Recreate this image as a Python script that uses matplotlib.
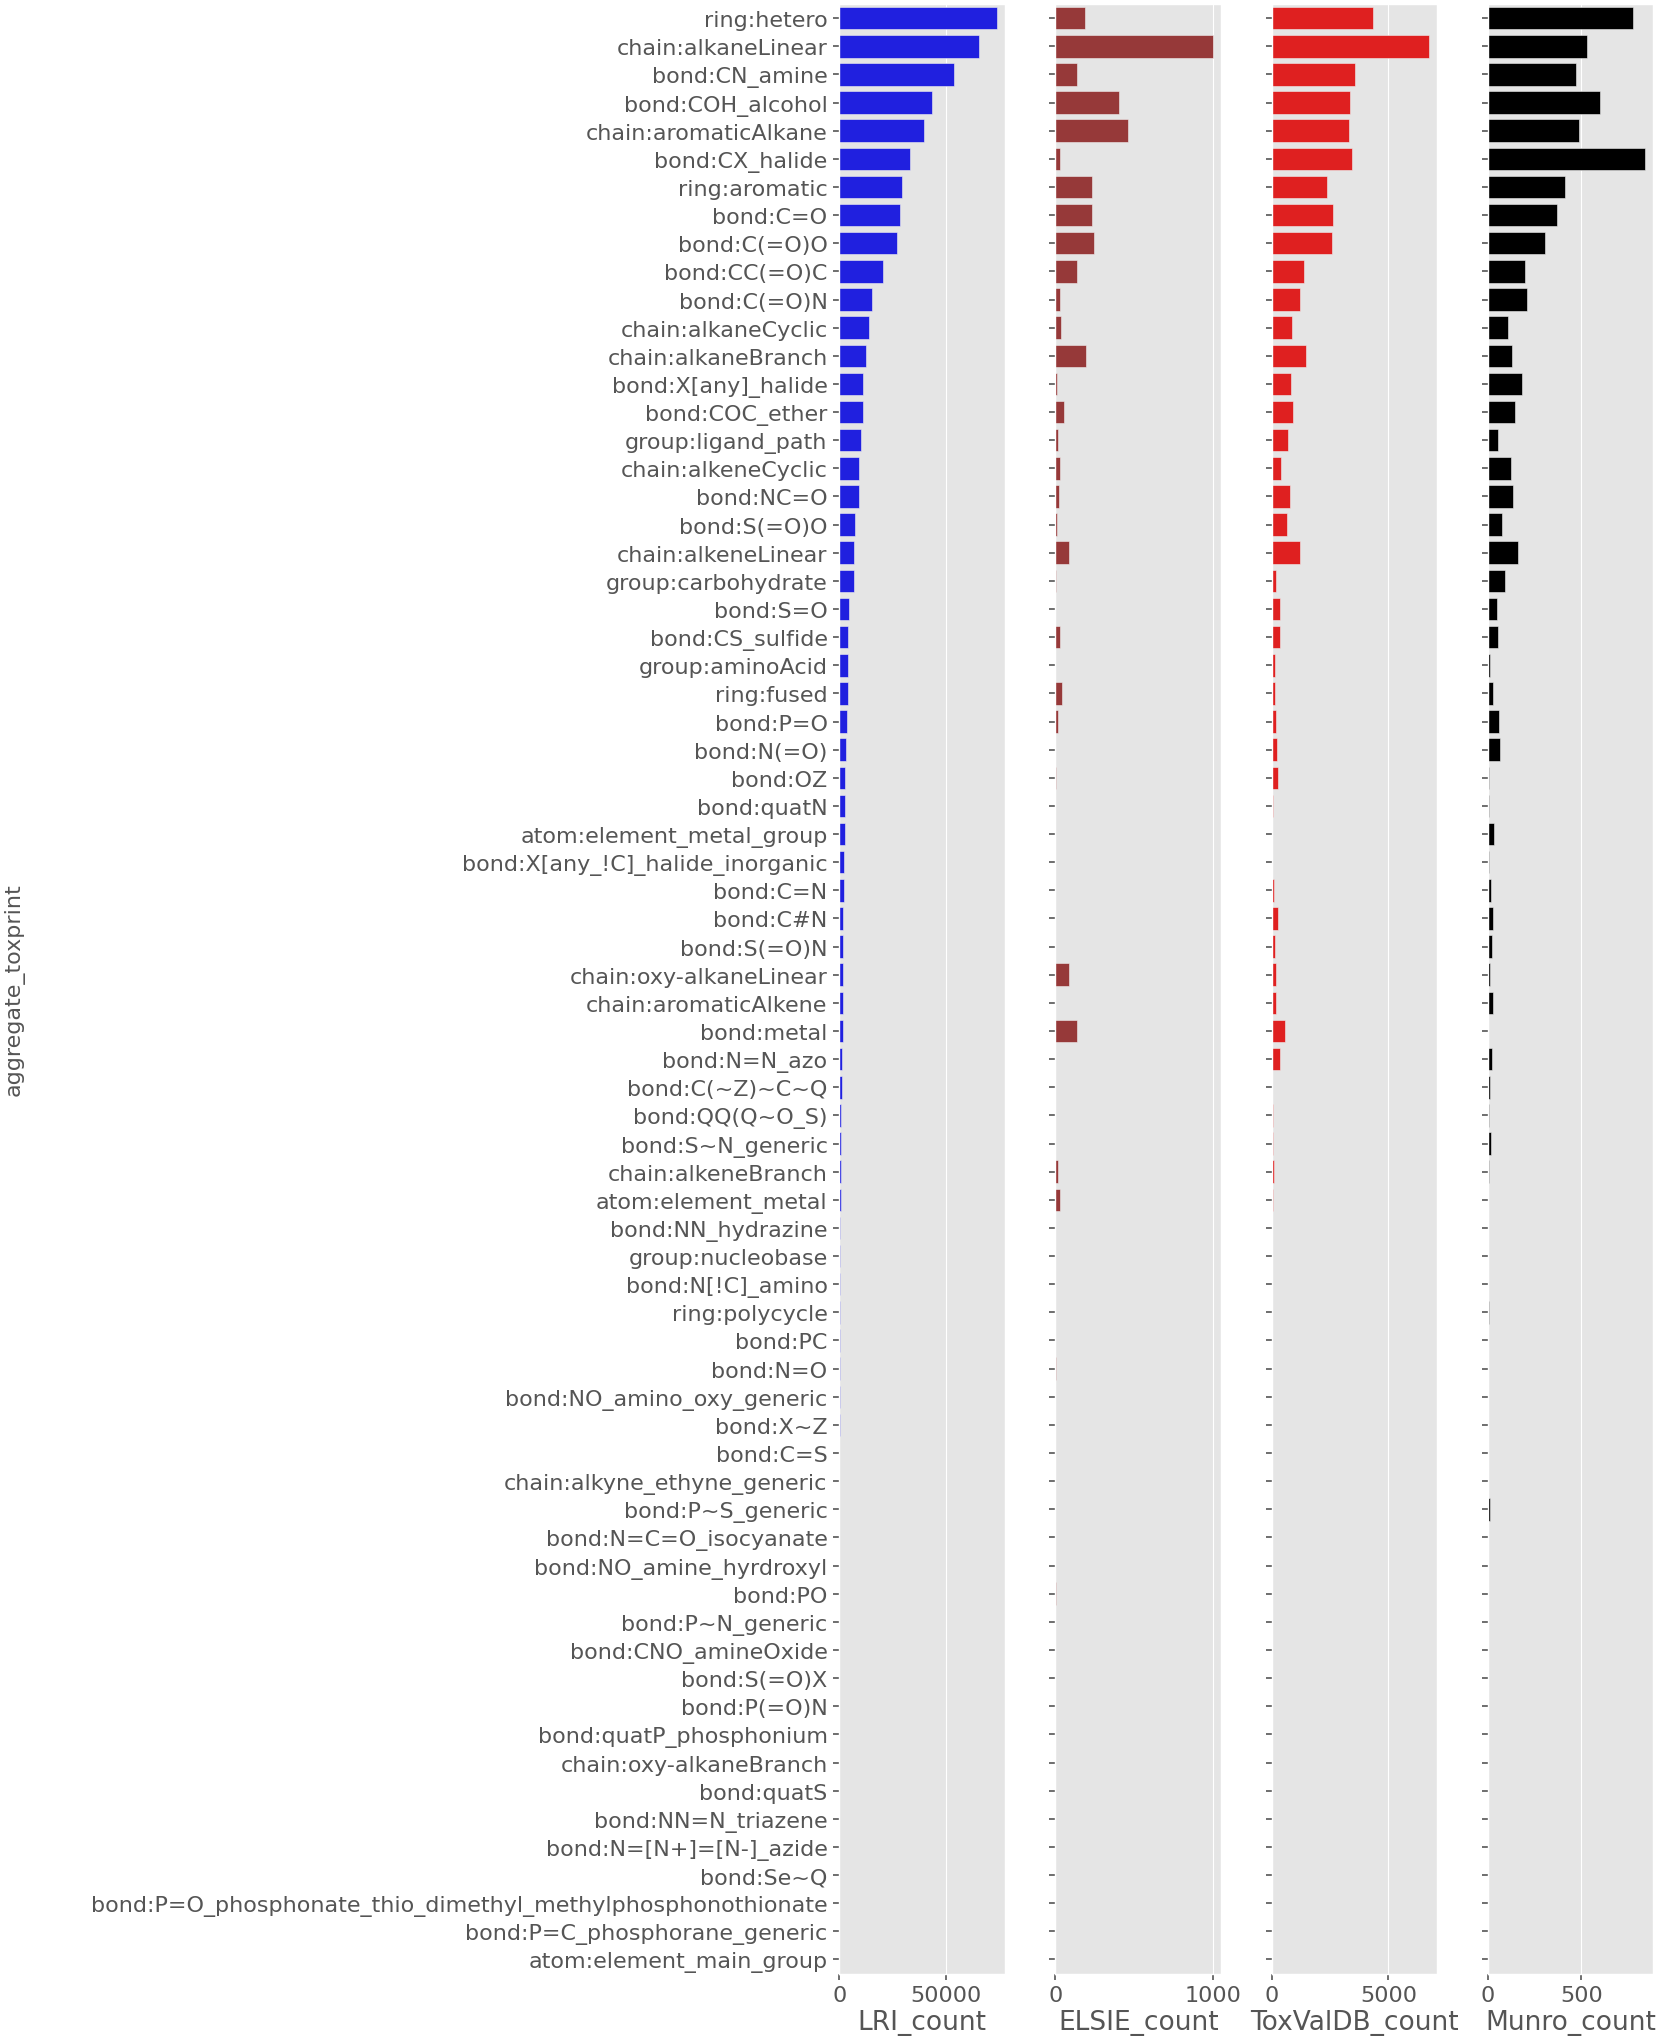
import numpy as np
import matplotlib
matplotlib.use('Agg')
import matplotlib.pyplot as plt

plt.style.use('ggplot')

toxprints = [
    'ring:hetero', 'chain:alkaneLinear', 'bond:CN_amine', 'bond:COH_alcohol',
    'chain:aromaticAlkane', 'bond:CX_halide', 'ring:aromatic', 'bond:C=O',
    'bond:C(=O)O', 'bond:CC(=O)C', 'bond:C(=O)N', 'chain:alkaneCyclic',
    'chain:alkaneBranch', 'bond:X[any]_halide', 'bond:COC_ether', 'group:ligand_path',
    'chain:alkeneCyclic', 'bond:NC=O', 'bond:S(=O)O', 'chain:alkeneLinear',
    'group:carbohydrate', 'bond:S=O', 'bond:CS_sulfide', 'group:aminoAcid',
    'ring:fused', 'bond:P=O', 'bond:N(=O)', 'bond:OZ', 'bond:quatN',
    'atom:element_metal_group', 'bond:X[any_!C]_halide_inorganic', 'bond:C=N',
    'bond:C#N', 'bond:S(=O)N', 'chain:oxy-alkaneLinear', 'chain:aromaticAlkene',
    'bond:metal', 'bond:N=N_azo', 'bond:C(~Z)~C~Q', 'bond:QQ(Q~O_S)',
    'bond:S~N_generic', 'chain:alkeneBranch', 'atom:element_metal', 'bond:NN_hydrazine',
    'group:nucleobase', 'bond:N[!C]_amino', 'ring:polycycle', 'bond:PC', 'bond:N=O',
    'bond:NO_amino_oxy_generic', 'bond:X~Z', 'bond:C=S', 'chain:alkyne_ethyne_generic',
    'bond:P~S_generic', 'bond:N=C=O_isocyanate', 'bond:NO_amine_hyrdroxyl', 'bond:PO',
    'bond:P~N_generic', 'bond:CNO_amineOxide', 'bond:S(=O)X', 'bond:P(=O)N',
    'bond:quatP_phosphonium', 'chain:oxy-alkaneBranch', 'bond:quatS',
    'bond:NN=N_triazene', 'bond:N=[N+]=[N-]_azide', 'bond:Se~Q',
    'bond:P=O_phosphonate_thio_dimethyl_methylphosphonothionate',
    'bond:P=C_phosphorane_generic', 'atom:element_main_group',
]

lri_count = [
    73900, 65400, 53500, 43200, 39600, 33100, 29300, 28500, 26800, 20500,
    15200, 13900, 12400, 11100, 10900, 10100, 9300, 9100, 7300, 6900,
    6800, 4400, 4300, 4200, 3900, 3800, 2900, 2800, 2600, 2500,
    2200, 2000, 1900, 1700, 1700, 1600, 1600, 1400, 1200, 900,
    800, 700, 700, 400, 300, 220, 180, 150, 130, 110,
    95, 80, 70, 60, 50, 45, 40, 35, 30, 25,
    20, 16, 13, 10, 8, 6, 4, 3, 2, 1,
]
elsie_count = [
    188, 1000, 134, 401, 459, 31, 233, 233, 243, 134,
    31, 38, 195, 10, 55, 14, 31, 24, 7, 86,
    5, 0, 27, 0, 41, 17, 0, 5, 0, 0,
    0, 0, 0, 0, 86, 0, 137, 0, 0, 0,
    0, 14, 27, 0, 0, 0, 0, 0, 6, 0,
    0, 0, 0, 0, 0, 0, 4, 0, 0, 0,
    0, 0, 0, 0, 0, 0, 0, 0, 0, 0,
]
toxvaldb_count = [
    4350, 6750, 3565, 3357, 3310, 3449, 2361, 2616, 2570, 1389,
    1204, 880, 1458, 810, 903, 718, 417, 787, 648, 1227,
    208, 370, 347, 139, 162, 208, 232, 278, 70, 0,
    0, 116, 255, 139, 208, 208, 556, 370, 30, 80,
    80, 120, 80, 0, 0, 0, 0, 0, 0, 0,
    0, 0, 0, 0, 0, 0, 0, 0, 0, 0,
    0, 0, 0, 0, 0, 0, 0, 0, 0, 0,
]
munro_count = [
    776, 529, 471, 601, 489, 842, 411, 371, 305, 201,
    210, 106, 129, 184, 147, 57, 126, 135, 75, 164,
    92, 52, 57, 11, 29, 60, 66, 6, 6, 34,
    6, 17, 26, 23, 11, 29, 0, 23, 11, 6,
    17, 6, 0, 0, 0, 0, 6, 2, 0, 0,
    0, 2, 0, 12, 0, 0, 0, 0, 0, 0,
    0, 0, 0, 0, 0, 0, 0, 0, 0, 0,
]

columns = ['LRI_count', 'ELSIE_count', 'ToxValDB_count', 'Munro_count']
series = [lri_count, elsie_count, toxvaldb_count, munro_count]
bar_colors = ['#2020df', '#963939', '#df2020', '#000000']
x_ticks = [[0, 50000], [0, 1000], [0, 5000], [0, 500]]

fig, axes = plt.subplots(1, 4, sharey=True, figsize=(16.63, 20.40), dpi=100)
fig.subplots_adjust(left=0.5047, right=0.9942, bottom=0.0321, top=0.9975, wspace=0.305)

pos = np.arange(len(toxprints))
for ax, col, vals, c, ticks in zip(axes, columns, series, bar_colors, x_ticks):
    ax.barh(pos, vals, height=0.8, color=c, edgecolor='#eeeeee', linewidth=0.4)
    ax.set_xticks(ticks)
    ax.set_xticklabels([str(t) for t in ticks])
    ax.set_xlabel(col, fontsize=19, labelpad=3)
    ax.grid(axis='y', visible=False)
    ax.tick_params(axis='both', labelsize=16, length=4.5, width=1.2, pad=4)

axes[0].set_yticks(pos)
axes[0].set_yticklabels(toxprints)
axes[0].set_ylim(len(toxprints) - 0.5, -0.5)
axes[0].set_ylabel('aggregate_toxprint', fontsize=16)
axes[0].yaxis.set_label_coords(-4.92, 0.5)

fig.savefig('out.png')
